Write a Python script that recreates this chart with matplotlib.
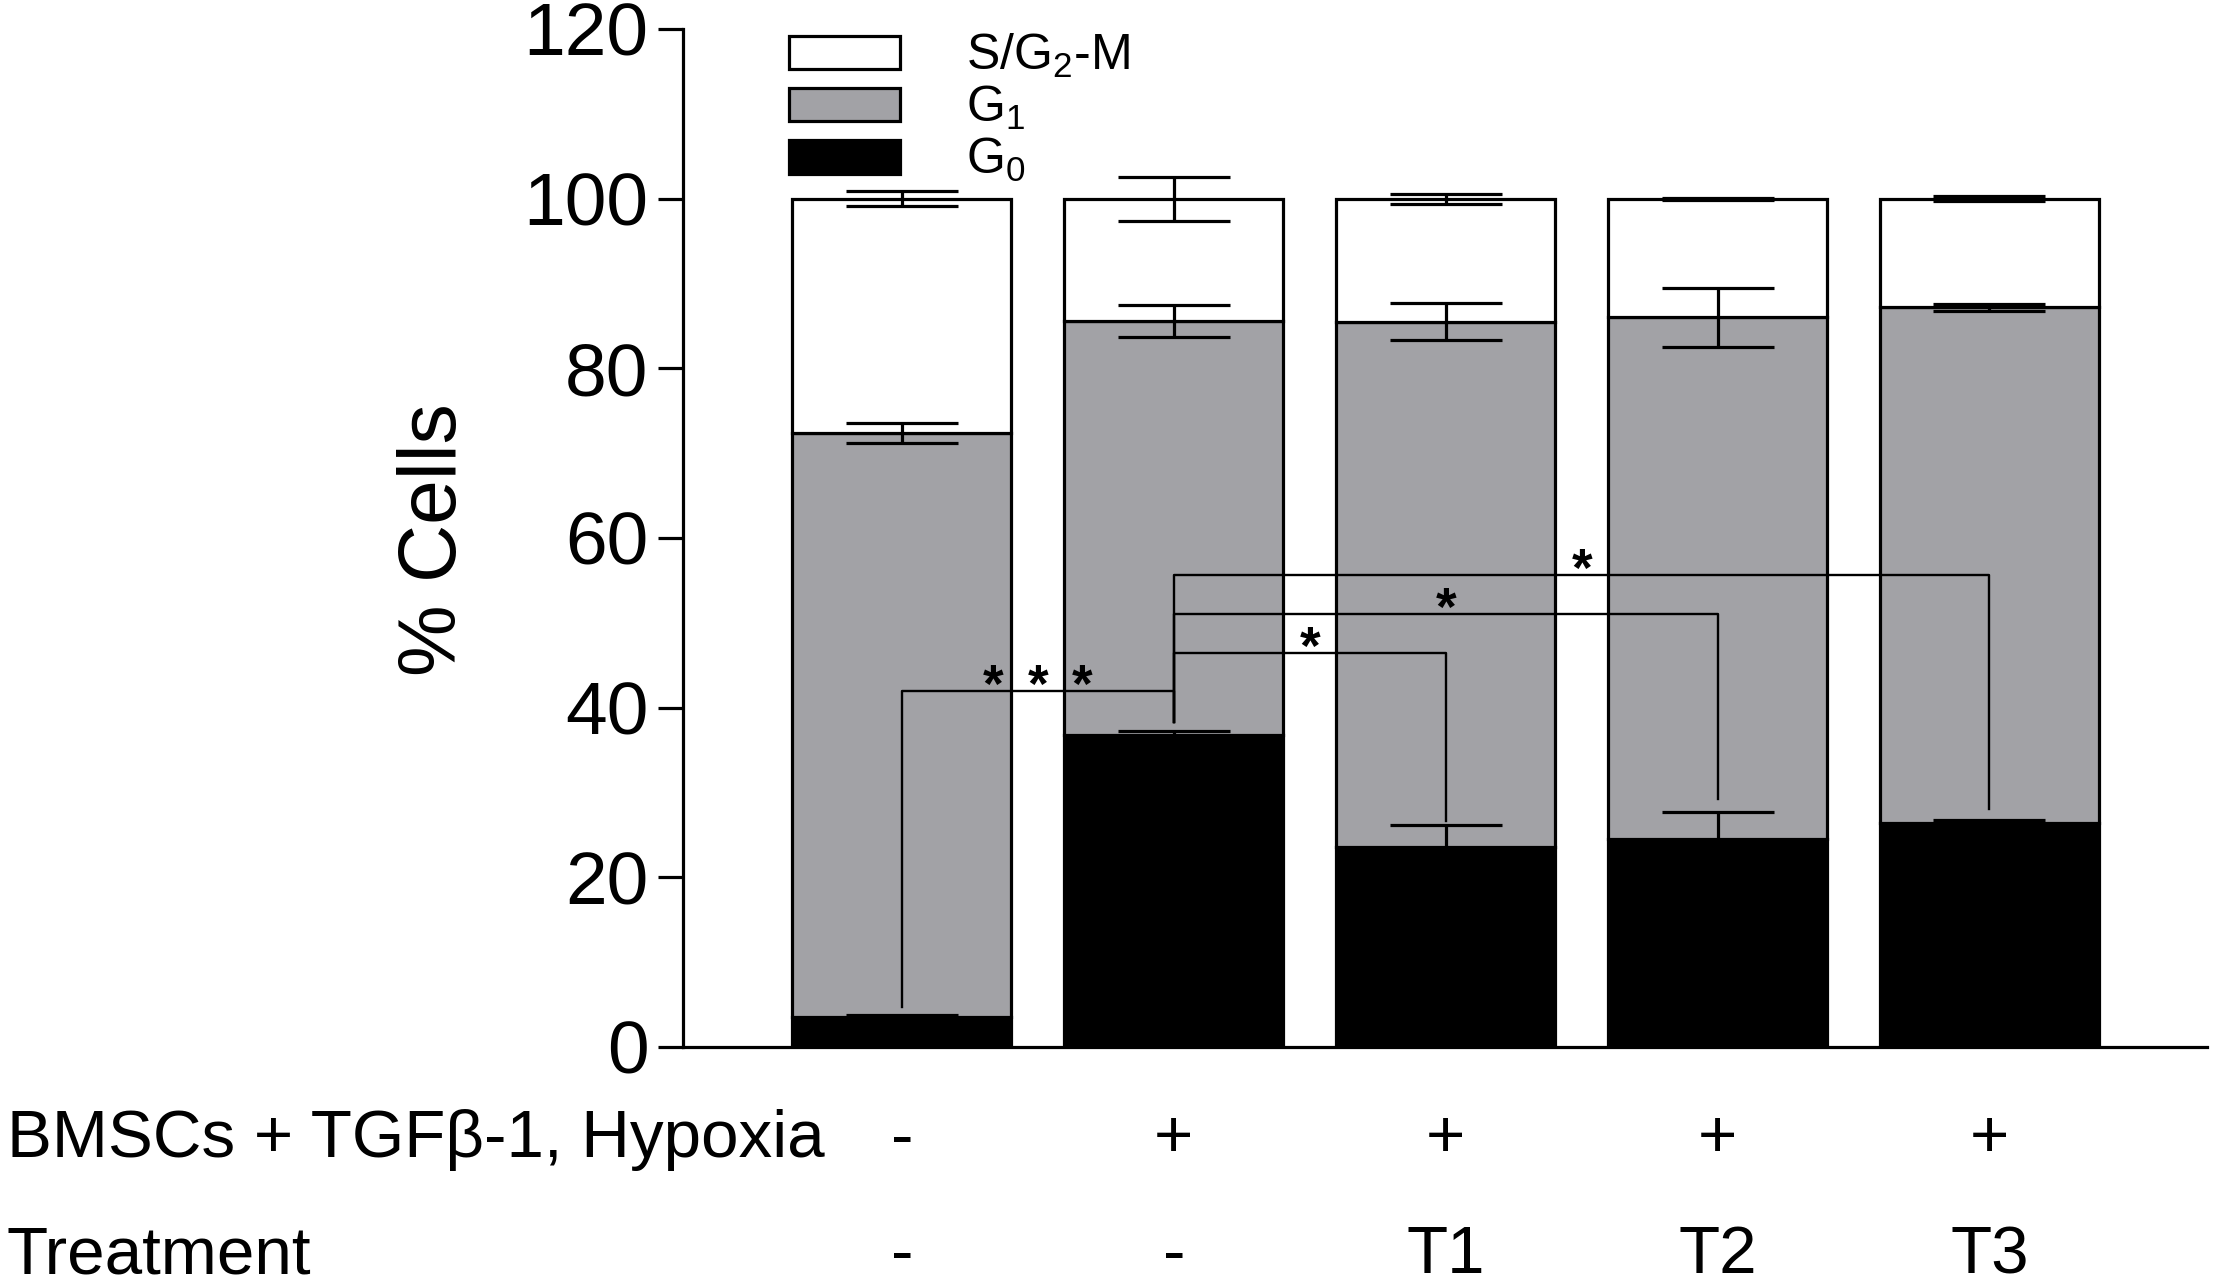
import numpy as np
import matplotlib
matplotlib.use("Agg")
import matplotlib.pyplot as plt
from matplotlib.transforms import blended_transform_factory

plt.rcParams['font.family'] = ['Liberation Sans', 'DejaVu Sans']
plt.rcParams['mathtext.default'] = 'regular'

# cell-cycle fractions per group (% cells)
row1_labels = ['-', '+', '+', '+', '+']
row2_labels = ['-', '-', 'T1', 'T2', 'T3']
g0 = [3.5, 36.8, 23.6, 24.5, 26.4]
g1 = [68.9, 48.8, 61.9, 61.5, 60.8]
sg2m = [27.6, 14.4, 14.5, 14.0, 12.8]
g0_err = [0.3, 0.5, 2.6, 3.2, 0.3]
g1_err = [1.2, 1.9, 2.2, 3.5, 0.4]
sg2m_err = [0.9, 2.6, 0.6, 0.1, 0.3]

# significance brackets: (left bar, right bar, stars, bracket height, left drop, right drop)
sig_pairs = [
    (0, 1, 3, 42.0, 4.7, 38.3),
    (1, 2, 1, 46.5, 38.3, 26.6),
    (1, 3, 1, 51.0, 38.3, 29.2),
    (1, 4, 1, 55.6, 38.3, 28.0),
]

GRAY = '#a2a2a6'
W_PX = 2217
H_PX = 1286

fig = plt.figure(figsize=(W_PX / 100, H_PX / 100), dpi=100)
ax = fig.add_axes([683 / W_PX, 1 - 1047 / H_PX, (2207 - 683) / W_PX, (1047 - 29) / H_PX])

x = np.arange(len(g0))
bw = 0.805
edge_lw = 2.3

g0 = np.array(g0)
g1 = np.array(g1)
sg2m = np.array(sg2m)

ax.bar(x, g0, bw, color='black', edgecolor='black', linewidth=edge_lw, label='G$_0$', zorder=2)
ax.bar(x, g1, bw, bottom=g0, color=GRAY, edgecolor='black', linewidth=edge_lw, label='G$_1$', zorder=2)
ax.bar(x, sg2m, bw, bottom=g0 + g1, color='white', edgecolor='black', linewidth=edge_lw,
       label='S/G$_2$-M', zorder=2)

for top, err in [(g0, g0_err), (g0 + g1, g1_err), (g0 + g1 + sg2m, sg2m_err)]:
    ax.errorbar(x, top, yerr=err, fmt='none', ecolor='black', elinewidth=2.3,
                capsize=40, capthick=2.3, zorder=4)

# brackets
for a, b, nstar, h, da, db in sig_pairs:
    ax.plot([a, a, b, b], [da, h, h, db], color='black', lw=1.7, zorder=5)
    mid = (a + b) / 2
    if nstar == 1:
        offs = [0.0]
    else:
        offs = [-0.163, 0.0, 0.163]
    for o in offs:
        ax.text(mid + o, h - 1.3, '*', ha='center', va='baseline', fontsize=38,
                fontweight='bold', zorder=6)

ax.set_xlim(-bw, len(g0) - 1 + 0.80)
ax.set_ylim(0, 120)
ax.set_yticks([0, 20, 40, 60, 80, 100, 120])
ax.set_xticks([])
for s in ['top', 'right']:
    ax.spines[s].set_visible(False)
for s in ['left', 'bottom']:
    ax.spines[s].set_linewidth(2.3)
ax.tick_params(axis='y', labelsize=54, length=18, width=2.3, pad=7)

handles, labels = ax.get_legend_handles_labels()
ax.legend(handles[::-1], labels[::-1], loc='upper left', bbox_to_anchor=(0.0696, 0.997),
          frameon=False, fontsize=36, handlelength=2.22, handleheight=0.66,
          handletextpad=1.32, labelspacing=0.08, borderpad=0, borderaxespad=0)

fig.text(435 / W_PX, 1 - 540 / H_PX, '% Cells', rotation=90, ha='center', va='center', fontsize=58)

# condition rows under the axis
tr = blended_transform_factory(ax.transData, fig.transFigure)
fig.text(7 / W_PX, 1 - 1157 / H_PX, 'BMSCs + TGF\u03b2-1, Hypoxia', fontsize=48.5, va='baseline')
fig.text(7 / W_PX, 1 - 1273 / H_PX, 'Treatment', fontsize=48.5, va='baseline')
for i in range(len(x)):
    ax.text(x[i], 1 - 1157 / H_PX, row1_labels[i], transform=tr, ha='center', va='baseline', fontsize=48.5)
    ax.text(x[i], 1 - 1273 / H_PX, row2_labels[i], transform=tr, ha='center', va='baseline', fontsize=48.5)

fig.savefig('out.png', dpi=100)
